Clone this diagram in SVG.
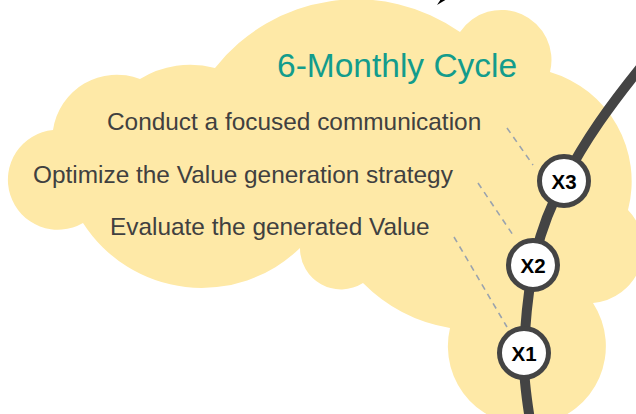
<svg xmlns="http://www.w3.org/2000/svg" width="636" height="414" viewBox="0 0 636 414">
  <style>
    .cloud { fill: #FEE9A7; }
    .title { font-family: "Liberation Sans", Arial, sans-serif; font-size: 33.5px; fill: #139C8C; }
    .task { font-family: "Liberation Sans", Arial, sans-serif; font-size: 24.4px; fill: #404040; }
    .node circle { fill: #FFFFFF; stroke: #444444; stroke-width: 5; }
    .node text { font-family: "Liberation Sans", Arial, sans-serif; font-size: 20.5px; font-weight: bold; fill: #000000; text-anchor: middle; }
    .track { fill: none; stroke: #444444; stroke-width: 10; }
    .leader { fill: none; stroke: #9AA3AE; stroke-width: 1.6; stroke-dasharray: 6 5; }
  </style>
  <rect width="636" height="414" fill="#FFFFFF"/>
  <path d="M 437 5 L 447 -1 L 441 -1 Z" fill="#000000"/>
  <g id="cloud">
    <path class="cloud" d="M 215 68 A 180 180 0 0 1 460 32 A 50 50 0 0 1 550 72 A 114 114 0 0 1 628 210 A 55 55 0 0 1 593 303 A 79 79 0 1 1 450 328 A 160 160 0 0 1 363 283 A 41 41 0 0 1 300 248 A 141 141 0 0 1 83 223 A 50 50 0 1 1 53 130 A 64.5 64.5 0 0 1 140 79 A 95 95 0 0 1 215 68 Z"/>
  </g>
  <g id="title">
    <text class="title" x="277" y="77">6-Monthly Cycle</text>
  </g>
  <g id="task-communication">
    <text class="task" x="107" y="130">Conduct a focused communication</text>
  </g>
  <g id="task-optimize">
    <text class="task" x="33" y="183">Optimize the Value generation strategy</text>
  </g>
  <g id="task-evaluate">
    <text class="task" x="110" y="235">Evaluate the generated Value</text>
  </g>
  <g id="connectors">
    <path class="track" d="M 530 420 C 526 395 523 372 524 353 C 525 320 528 295 533 265 C 540 232 549 208 564 181 C 585 140 610 105 645 62"/>
    <line class="leader" x1="507" y1="128" x2="533" y2="165"/>
    <line class="leader" x1="478" y1="183" x2="513" y2="235"/>
    <line class="leader" x1="454" y1="237" x2="507" y2="327"/>
  </g>
  <g id="node-x3" class="node">
    <circle cx="564" cy="181" r="24.5"/>
    <text x="564" y="188.5">X3</text>
  </g>
  <g id="node-x2" class="node">
    <circle cx="533" cy="265" r="24.5"/>
    <text x="533" y="272.5">X2</text>
  </g>
  <g id="node-x1" class="node">
    <circle cx="524" cy="353" r="24.5"/>
    <text x="524" y="360.5">X1</text>
  </g>
</svg>
